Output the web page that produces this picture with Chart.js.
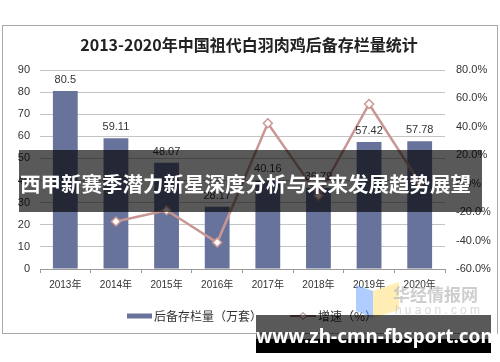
<!DOCTYPE html>
<html><head><meta charset="utf-8">
<script src="https://cdn.jsdelivr.net/npm/chart.js@4/dist/chart.umd.min.js"></script>
<style>
html,body{margin:0;padding:0;background:#fff;}
#wrap{position:relative;width:500px;height:362px;overflow:hidden;}
canvas{position:absolute;left:0;top:0;}
.ov{position:absolute;}
</style></head>
<body><div id="wrap">
<canvas id="c" width="500" height="362"></canvas>
<svg class="ov" style="left:354px;top:279px" width="48" height="42">
 <polygon points="2,6 19,12 19,39 2,32" fill="rgba(110,165,255,0.55)"/>
 <polygon points="19,12 45,3 45,31 19,39" fill="rgba(255,225,130,0.6)"/>
</svg>
<div class="ov" id="wm1" style="left:393px;top:284px;font:bold 17px 'Noto Sans CJK SC';color:rgba(190,190,190,0.75);line-height:20px;white-space:nowrap;">华经情报网</div>
<div class="ov" id="wm2" style="left:395px;top:303px;font:12px 'Liberation Sans';color:rgba(200,200,200,0.7);letter-spacing:3.2px;line-height:14px;white-space:nowrap;">huaon.com</div>
<div class="ov" style="left:19px;top:150px;width:463px;height:62px;background:rgba(0,0,0,0.65);"></div>
<div class="ov" style="left:20px;top:168px;font:bold 20.5px 'Noto Sans CJK SC';color:#fff;line-height:30px;white-space:nowrap;">西甲新赛季潜力新星深度分析与未来发展趋势展望</div>
<div class="ov" style="left:256px;top:315px;width:235px;height:24px;background:rgba(0,0,0,0.65);"></div>
<div class="ov" style="left:256px;top:339px;width:235px;height:14px;background:#000;"></div>
<div class="ov" id="url" style="left:256px;top:323px;width:235px;text-align:center;font:bold 19px 'Noto Sans','DejaVu Sans';color:#fff;line-height:26px;white-space:nowrap;">www.zh-cmn-fbsport.com</div>
</div>
<script>
const titleText = '2013-2020年中国祖代白羽肉鸡后备存栏量统计';
const categories = ['2013年','2014年','2015年','2016年','2017年','2018年','2019年','2020年'];
const stockValues = [80.5, 59.11, 48.07, 28.17, 40.16, 36.79, 57.42, 57.78];
const growthValues = [null, -26.57, -18.68, -41.40, 42.56, -8.39, 56.08, 0.63];
const leftTicks = [0, 90, 10];
const rightTicks = [-60, 80, 20];
const seriesNames = ['后备存栏量（万套）', '增速（%）'];

const BAR = '#68739b';
const LINE = '#c99793';
const FONT = "'Liberation Sans','Noto Sans CJK SC',sans-serif";

const deco = {
  id: 'deco',
  beforeDraw(chart) {
    const ctx = chart.ctx;
    ctx.save();
    ctx.fillStyle = '#fff';
    ctx.fillRect(0, 0, 500, 362);
    ctx.strokeStyle = '#a8a8a8';
    ctx.lineWidth = 1;
    ctx.strokeRect(2.5, 25.5, 495, 308);
    ctx.fillStyle = '#222';
    ctx.font = "bold 16px 'Noto Sans CJK SC'";
    ctx.textAlign = 'center';
    ctx.textBaseline = 'middle';
    ctx.fillText(titleText, 249, 45);
    ctx.restore();
  },
  afterDatasetsDraw(chart) {
    const ctx = chart.ctx;
    ctx.save();
    const meta = chart.getDatasetMeta(0);
    ctx.fillStyle = '#333';
    ctx.font = '11px ' + FONT;
    ctx.textAlign = 'center';
    ctx.textBaseline = 'alphabetic';
    meta.data.forEach((bar, i) => {
      ctx.fillText(String(stockValues[i]), bar.x, bar.y - 8);
    });
    // legend
    const ly = 316;
    ctx.fillStyle = chart.data.datasets[0].backgroundColor;
    ctx.fillRect(127, ly - 2.5, 25, 5);
    ctx.fillStyle = '#333';
    ctx.font = "12px 'Noto Sans CJK SC'";
    ctx.textAlign = 'left';
    ctx.textBaseline = 'middle';
    ctx.fillText(chart.data.datasets[0].label, 154, ly);
    ctx.strokeStyle = '#9c6b68';
    ctx.lineWidth = 2;
    ctx.beginPath(); ctx.moveTo(290, ly); ctx.lineTo(316, ly); ctx.stroke();
    ctx.fillStyle = '#fff';
    ctx.lineWidth = 1;
    ctx.beginPath();
    ctx.moveTo(303, ly - 3.5); ctx.lineTo(306.5, ly); ctx.lineTo(303, ly + 3.5); ctx.lineTo(299.5, ly); ctx.closePath();
    ctx.fill(); ctx.stroke();
    ctx.fillStyle = '#333';
    ctx.fillText(chart.data.datasets[1].label, 318, ly);
    ctx.restore();
  }
};

new Chart(document.getElementById('c'), {
  data: {
    labels: categories,
    datasets: [
      { type: 'bar', label: seriesNames[0], data: stockValues, backgroundColor: BAR, yAxisID: 'y',
        barPercentage: 0.49, categoryPercentage: 1, order: 2 },
      { type: 'line', label: seriesNames[1], data: growthValues, yAxisID: 'y1', borderColor: LINE,
        borderWidth: 2.5, pointStyle: 'rectRot', pointRadius: 4.5, pointBackgroundColor: '#fff',
        pointBorderColor: LINE, pointBorderWidth: 1.5, tension: 0, spanGaps: false, order: 1 }
    ]
  },
  options: {
    responsive: false,
    animation: false,
    devicePixelRatio: 1,
    layout: { padding: { top: 70, left: 0, right: 0, bottom: 0 } },
    plugins: { legend: { display: false }, title: { display: false }, tooltip: { enabled: false } },
    scales: {
      x: {
        afterFit(s) { s.height = 93; },
        grid: { offset: true, drawOnChartArea: false, drawTicks: true, tickLength: 4, color: '#999' },
        border: { display: true, color: '#999', width: 1 },
        ticks: { color: '#333', font: { size: 10, family: FONT }, padding: 6, maxRotation: 0 }
      },
      y: {
        position: 'left',
        min: leftTicks[0], max: leftTicks[1],
        afterFit(s) { s.width = 40; },
        ticks: { stepSize: leftTicks[2], color: '#333', font: { size: 11, family: FONT }, padding: 10 },
        grid: { color: '#c4c4c4', lineWidth: 1, drawTicks: false },
        border: { display: false }
      },
      y1: {
        position: 'right',
        min: rightTicks[0], max: rightTicks[1],
        afterFit(s) { s.width = 55; },
        ticks: { stepSize: rightTicks[2], color: '#333', font: { size: 11, family: FONT }, padding: 11,
          callback: v => v.toFixed(1) + '%' },
        grid: { drawOnChartArea: false, drawTicks: false },
        border: { display: false }
      }
    }
  },
  plugins: [deco]
});
</script>
</body></html>
